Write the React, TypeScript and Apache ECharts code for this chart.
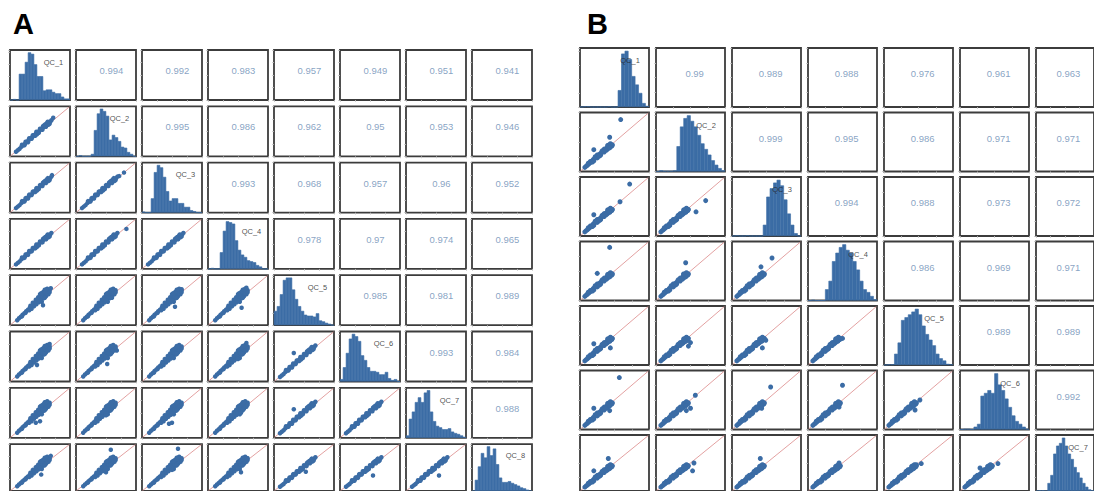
import React, { useEffect, useRef } from "react";
import * as echarts from "echarts";

// ---------- DATA ----------
const namesA = ["QC_1", "QC_2", "QC_3", "QC_4", "QC_5", "QC_6", "QC_7", "QC_8"];
const namesB = ["QC_1", "QC_2", "QC_3", "QC_4", "QC_5", "QC_6", "QC_7"];

// upper-triangle correlations, row by row
const corrA = [
  [0.994, 0.992, 0.983, 0.957, 0.949, 0.951, 0.941],
  [0.995, 0.986, 0.962, 0.95, 0.953, 0.946],
  [0.993, 0.968, 0.957, 0.96, 0.952],
  [0.978, 0.97, 0.974, 0.965],
  [0.985, 0.981, 0.989],
  [0.993, 0.984],
  [0.988],
];
const corrB = [
  [0.99, 0.989, 0.988, 0.976, 0.961, 0.963],
  [0.999, 0.995, 0.986, 0.971, 0.971],
  [0.994, 0.988, 0.973, 0.972],
  [0.986, 0.969, 0.971],
  [0.989, 0.989],
  [0.992],
];

const bins = ["0","1","2","3","4","5","6","7","8","9","10","11","12","13","14","15","16","17","18","19"];

// relative histogram heights (20 bins across each diagonal cell)
const histA = [
  [0, 0.02, 0, 0.55, 0.55, 0.8, 1.0, 0.97, 0.75, 0.5, 0.5, 0.2, 0.22, 0.22, 0.17, 0.14, 0.14, 0.07, 0.03, 0.03],
  [0, 0.02, 0, 0, 0, 0.05, 0.55, 0.9, 1.0, 0.95, 0.85, 0.35, 0.45, 0.4, 0.32, 0.2, 0.18, 0.09, 0.05, 0],
  [0.02, 0, 0, 0.3, 0.85, 1.0, 0.95, 0.75, 0.45, 0.25, 0.3, 0.3, 0.2, 0.2, 0.12, 0.12, 0.05, 0.03, 0, 0],
  [0, 0.02, 0, 0, 0.35, 0.8, 1.0, 0.98, 0.95, 0.6, 0.4, 0.3, 0.25, 0.18, 0.16, 0.14, 0.08, 0.05, 0, 0],
  [0.3, 0.4, 0.65, 0.95, 1.0, 1.0, 0.75, 0.55, 0.4, 0.3, 0.22, 0.2, 0.2, 0.18, 0.25, 0.1, 0.08, 0.05, 0.03, 0],
  [0.05, 0.3, 0.6, 0.9, 1.0, 0.95, 0.85, 0.55, 0.45, 0.3, 0.22, 0.22, 0.2, 0.15, 0.15, 0.2, 0.07, 0.03, 0.05, 0],
  [0.05, 0.4, 0.55, 0.75, 0.85, 0.75, 0.95, 1.0, 0.55, 0.35, 0.25, 0.22, 0.18, 0.18, 0.2, 0.13, 0.1, 0.08, 0.05, 0.02],
  [0, 0.25, 0.55, 0.85, 0.75, 1.0, 0.8, 0.95, 0.6, 0.3, 0.2, 0.2, 0.22, 0.18, 0.15, 0.12, 0.08, 0.06, 0.03, 0],
];
const histB = [
  [0, 0.01, 0.01, 0, 0, 0, 0, 0, 0.01, 0, 0, 0.3, 0.95, 1.0, 0.85, 0.55, 0.4, 0.25, 0.07, 0.02],
  [0, 0.02, 0.01, 0.01, 0.01, 0.02, 0.45, 0.8, 0.95, 1.0, 0.9, 0.8, 0.65, 0.5, 0.4, 0.3, 0.2, 0.12, 0.06, 0.02],
  [0, 0.01, 0, 0, 0.01, 0, 0, 0, 0, 0.2, 0.7, 0.85, 0.95, 1.0, 0.9, 0.65, 0.4, 0.2, 0.05, 0],
  [0, 0.01, 0, 0, 0, 0.2, 0.35, 0.7, 0.85, 0.95, 1.0, 0.9, 0.85, 0.7, 0.55, 0.35, 0.2, 0.15, 0.08, 0.02],
  [0, 0.01, 0.01, 0.2, 0.4, 0.8, 0.85, 0.9, 0.95, 1.0, 0.9, 0.7, 0.55, 0.45, 0.35, 0.2, 0.12, 0.08, 0.02, 0.01],
  [0, 0.01, 0.01, 0, 0.05, 0.1, 0.6, 0.65, 0.7, 0.65, 1.0, 0.8, 0.7, 0.55, 0.4, 0.25, 0.15, 0.1, 0.05, 0.01],
  [0, 0.01, 0.01, 0, 0.15, 0.3, 0.7, 0.85, 0.9, 1.0, 0.85, 0.7, 0.6, 0.45, 0.35, 0.25, 0.15, 0.08, 0.03, 0.01],
];

// dense point bands
const bandTightA = [
  [0.1, 0.09], [0.13, 0.12], [0.16, 0.15], [0.19, 0.19], [0.22, 0.22], [0.25, 0.25], [0.28, 0.29],
  [0.31, 0.32], [0.34, 0.35], [0.37, 0.38], [0.4, 0.42], [0.43, 0.45], [0.46, 0.48], [0.49, 0.51],
  [0.52, 0.54], [0.55, 0.57], [0.58, 0.6], [0.61, 0.63], [0.64, 0.66], [0.67, 0.69], [0.69, 0.72],
  [0.5, 0.55], [0.55, 0.6], [0.59, 0.64], [0.62, 0.67], [0.6, 0.59], [0.64, 0.63], [0.45, 0.44],
  [0.2, 0.23], [0.26, 0.29], [0.32, 0.36], [0.38, 0.42], [0.44, 0.49], [0.24, 0.22], [0.3, 0.28],
  [0.36, 0.35], [0.42, 0.41], [0.48, 0.47], [0.54, 0.53], [0.57, 0.62], [0.63, 0.69], [0.66, 0.65],
];
const bandWideA = [
  [0.12, 0.1], [0.15, 0.14], [0.18, 0.17], [0.21, 0.21], [0.24, 0.24], [0.27, 0.28], [0.3, 0.31],
  [0.33, 0.35], [0.36, 0.38], [0.39, 0.42], [0.42, 0.46], [0.45, 0.49], [0.48, 0.53], [0.51, 0.56],
  [0.54, 0.6], [0.57, 0.63], [0.6, 0.66], [0.63, 0.69], [0.4, 0.38], [0.44, 0.42], [0.48, 0.46],
  [0.52, 0.5], [0.56, 0.54], [0.6, 0.58], [0.64, 0.62], [0.47, 0.56], [0.5, 0.62], [0.55, 0.66],
  [0.58, 0.71], [0.43, 0.51], [0.62, 0.73], [0.66, 0.7], [0.36, 0.33], [0.53, 0.47],
  [0.2, 0.18], [0.26, 0.25], [0.32, 0.3], [0.34, 0.39], [0.38, 0.45], [0.46, 0.52], [0.5, 0.49],
  [0.54, 0.57], [0.58, 0.55], [0.62, 0.64], [0.52, 0.64], [0.57, 0.68], [0.6, 0.71], [0.66, 0.66],
];
const bandB = [
  [0.07, 0.07], [0.09, 0.09], [0.11, 0.11], [0.13, 0.13], [0.15, 0.15], [0.17, 0.17], [0.19, 0.2],
  [0.21, 0.22], [0.23, 0.24], [0.25, 0.26], [0.27, 0.28], [0.29, 0.3], [0.31, 0.32], [0.33, 0.34],
  [0.35, 0.36], [0.37, 0.38], [0.39, 0.4], [0.41, 0.42], [0.43, 0.44], [0.45, 0.46], [0.2, 0.18],
  [0.25, 0.23], [0.3, 0.28], [0.35, 0.33], [0.4, 0.38], [0.44, 0.42], [0.15, 0.17], [0.25, 0.28],
  [0.35, 0.38], [0.42, 0.45], [0.46, 0.43], [0.12, 0.14], [0.18, 0.16], [0.22, 0.25], [0.28, 0.26],
  [0.32, 0.35], [0.38, 0.36], [0.4, 0.44], [0.44, 0.47], [0.47, 0.45], [0.43, 0.4],
];

// per-cell outliers, keyed "row-col" (0-based)
const outliersA: Record<string, number[][]> = {
  "1-0": [[0.72, 0.77]],
  "2-0": [[0.7, 0.75]],
  "2-1": [[0.8, 0.8], [0.72, 0.73]],
  "3-0": [],
  "3-1": [[0.84, 0.8]],
  "3-2": [],
  "4-0": [[0.55, 0.4], [0.68, 0.74]],
  "4-1": [[0.6, 0.55]],
  "4-2": [[0.55, 0.37], [0.66, 0.72]],
  "4-3": [[0.64, 0.75], [0.56, 0.35]],
  "5-0": [[0.66, 0.75], [0.45, 0.33]],
  "5-1": [[0.52, 0.35], [0.68, 0.62]],
  "5-2": [[0.6, 0.7]],
  "5-3": [[0.64, 0.77], [0.5, 0.45]],
  "5-4": [[0.33, 0.57]],
  "6-0": [[0.43, 0.3], [0.5, 0.33]],
  "6-1": [[0.5, 0.45]],
  "6-2": [[0.45, 0.28], [0.5, 0.3]],
  "6-3": [[0.55, 0.5]],
  "6-4": [[0.33, 0.57]],
  "6-5": [],
  "7-0": [[0.68, 0.75], [0.52, 0.35]],
  "7-1": [[0.58, 0.88], [0.5, 0.4]],
  "7-2": [[0.6, 0.9], [0.5, 0.45]],
  "7-3": [[0.65, 0.7], [0.55, 0.4]],
  "7-4": [[0.53, 0.41]],
  "7-5": [[0.55, 0.33]],
  "7-6": [[0.55, 0.33]],
};
const outliersB: Record<string, number[][]> = {
  "1-0": [[0.59, 0.88], [0.43, 0.58], [0.2, 0.37]],
  "2-0": [[0.72, 0.88], [0.58, 0.58], [0.2, 0.36]],
  "2-1": [[0.72, 0.6], [0.58, 0.41]],
  "3-0": [[0.43, 0.9], [0.25, 0.46]],
  "3-1": [[0.43, 0.64], [0.4, 0.45]],
  "3-2": [[0.58, 0.72], [0.42, 0.57]],
  "4-0": [[0.2, 0.36], [0.44, 0.29]],
  "4-1": [[0.5, 0.38], [0.47, 0.32]],
  "4-2": [[0.49, 0.42], [0.44, 0.29]],
  "4-3": [[0.5, 0.45]],
  "5-0": [[0.57, 0.88], [0.2, 0.36], [0.43, 0.32]],
  "5-1": [[0.57, 0.58], [0.5, 0.36], [0.44, 0.32]],
  "5-2": [[0.56, 0.72], [0.43, 0.36]],
  "5-3": [[0.5, 0.75], [0.45, 0.38]],
  "5-4": [[0.52, 0.5], [0.45, 0.33]],
  "6-0": [[0.41, 0.58], [0.2, 0.36]],
  "6-1": [[0.55, 0.5], [0.53, 0.36]],
  "6-2": [[0.41, 0.58]],
  "6-3": [[0.45, 0.5]],
  "6-4": [[0.54, 0.49], [0.47, 0.47]],
  "6-5": [[0.55, 0.49], [0.29, 0.41]],
};

// ---------- STYLE ----------
const BLUE = "#3b6ca5";
const RED = "#e09696";
const BORDER = "#3c3c3c";
const CORR_COLOR = "#6a8cb4";
const FONT = "Liberation Sans, Arial, sans-serif";

type PanelCfg = {
  names: string[];
  corr: number[][];
  hist: number[][];
  outliers: Record<string, number[][]>;
  band: (i: number, j: number) => number[][];
  left: number;
  top: number;
  pitchX: number;
  pitchY: number;
  w: number;
  h: number;
  symbol: number;
  corrPos: number[];
  qcPos: number[];
};

function buildPanel(cfg: PanelCfg, opt: any) {
  const n = cfg.names.length;
  for (let i = 0; i < n; i++) {
    for (let j = 0; j < n; j++) {
      const gi = opt.grid.length;
      opt.grid.push({
        left: cfg.left + j * cfg.pitchX,
        top: cfg.top + i * cfg.pitchY,
        width: cfg.w,
        height: cfg.h,
        show: true,
        borderColor: BORDER,
        borderWidth: 1.8,
        backgroundColor: "#fff",
        containLabel: false,
      });
      const tick = { show: true, length: 2, lineStyle: { color: "#c4c4c4", width: 0.8 } };
      const diag = i === j;
      opt.yAxis.push({
        gridIndex: gi,
        type: "value",
        min: 0,
        max: diag ? 1.05 : 1,
        interval: 0.25,
        axisLine: { show: false },
        axisTick: tick,
        axisLabel: { show: false },
        splitLine: { show: false },
      });
      if (diag) {
        opt.xAxis.push({
          gridIndex: gi,
          type: "category",
          data: bins,
          boundaryGap: true,
          axisLine: { show: false },
          axisTick: { show: false },
          axisLabel: { show: false },
          splitLine: { show: false },
        });
        opt.series.push({
          type: "bar",
          xAxisIndex: gi,
          yAxisIndex: gi,
          data: cfg.hist[i],
          barWidth: "112%",
          itemStyle: { color: BLUE, borderColor: BLUE, borderWidth: 0.6 },
          silent: true,
        });
        opt.series.push({
          type: "scatter",
          xAxisIndex: gi,
          yAxisIndex: gi,
          data: [cfg.qcPos],
          symbolSize: 1,
          itemStyle: { color: "rgba(0,0,0,0)" },
          label: {
            show: true,
            position: "inside",
            formatter: cfg.names[i],
            fontSize: 7.5,
            color: "#222",
            fontFamily: FONT,
          },
          silent: true,
          z: 5,
        });
      } else {
        opt.xAxis.push({
          gridIndex: gi,
          type: "value",
          min: 0,
          max: 1,
          interval: 0.25,
          axisLine: { show: false },
          axisTick: tick,
          axisLabel: { show: false },
          splitLine: { show: false },
        });
        if (j > i) {
          const v = cfg.corr[i][j - i - 1];
          opt.series.push({
            type: "scatter",
            xAxisIndex: gi,
            yAxisIndex: gi,
            data: [cfg.corrPos],
            symbolSize: 1,
            itemStyle: { color: "rgba(0,0,0,0)" },
            label: {
              show: true,
              position: "inside",
              formatter: String(v),
              fontSize: 9.5,
              color: CORR_COLOR,
              fontFamily: FONT,
            },
            silent: true,
          });
        } else {
          opt.series.push({
            type: "line",
            xAxisIndex: gi,
            yAxisIndex: gi,
            data: [[0.01, 0.01], [0.99, 0.99]],
            symbol: "none",
            lineStyle: { color: RED, width: 0.9 },
            silent: true,
            z: 2,
          });
          const pts = cfg.band(i, j).concat(cfg.outliers[i + "-" + j] || []);
          opt.series.push({
            type: "scatter",
            xAxisIndex: gi,
            yAxisIndex: gi,
            data: pts,
            symbolSize: cfg.symbol,
            itemStyle: { color: BLUE, opacity: 1 },
            silent: true,
            z: 3,
          });
        }
      }
    }
  }
}

export default function App() {
  const ref = useRef<HTMLDivElement>(null);
  useEffect(() => {
    if (!ref.current) return;
    const chart = echarts.init(ref.current, undefined, { renderer: "svg" });
    const opt: any = {
      animation: false,
      backgroundColor: "#fff",
      grid: [],
      xAxis: [],
      yAxis: [],
      series: [],
      graphic: [
        {
          type: "text",
          left: 13,
          top: 9,
          style: { text: "A", fontSize: 29, fontWeight: "bold", fill: "#000", fontFamily: FONT },
        },
        {
          type: "text",
          left: 587,
          top: 9,
          style: { text: "B", fontSize: 29, fontWeight: "bold", fill: "#000", fontFamily: FONT },
        },
      ],
    };
    buildPanel(
      {
        names: namesA,
        corr: corrA,
        hist: histA,
        outliers: outliersA,
        band: (i, j) => (i >= 4 && j <= 3 ? bandWideA : bandTightA),
        left: 10,
        top: 50,
        pitchX: 66,
        pitchY: 56.3,
        w: 60,
        h: 50,
        symbol: 4.5,
        corrPos: [0.59, 0.59],
        qcPos: [14, 0.79],
      },
      opt
    );
    buildPanel(
      {
        names: namesB,
        corr: corrB,
        hist: histB,
        outliers: outliersB,
        band: () => bandB,
        left: 580,
        top: 48,
        pitchX: 76,
        pitchY: 64.5,
        w: 69,
        h: 59,
        symbol: 5,
        corrPos: [0.56, 0.56],
        qcPos: [14, 0.82],
      },
      opt
    );
    chart.setOption(opt);
    return () => chart.dispose();
  }, []);
  return (
    <div
      ref={ref}
      style={{ position: "absolute", left: 0, top: 0, width: 1094, height: 491, background: "#fff" }}
    />
  );
}
